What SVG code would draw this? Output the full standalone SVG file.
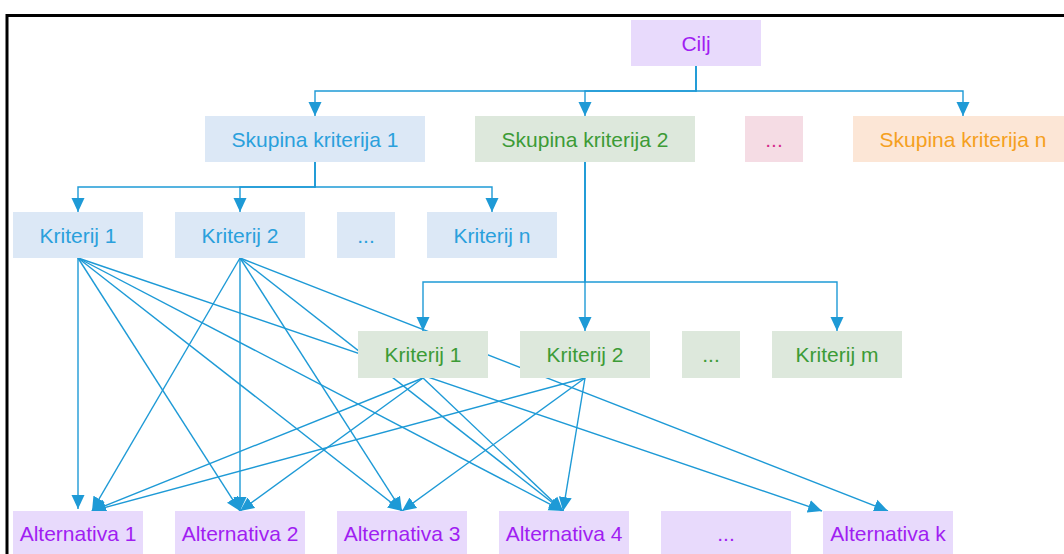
<svg xmlns="http://www.w3.org/2000/svg" width="1064" height="554" viewBox="0 0 1064 554">
<style>
  text { font-family: "Liberation Sans", Arial, sans-serif; font-size: 21px; text-anchor: middle; }
  .con { fill: none; stroke: #1e9ad6; stroke-width: 1.4; }
  .arr { marker-end: url(#ah); }
  .purple rect { fill: #e8dafc; }
  .purple text { fill: #a01ef2; }
  .blue rect { fill: #dce8f6; }
  .blue text { fill: #2aa0dc; }
  .green rect { fill: #dde8dc; }
  .green text { fill: #3c9b36; }
  .pink rect { fill: #f5dce4; }
  .pink text { fill: #d62e8c; }
  .orange rect { fill: #fce6d6; }
  .orange text { fill: #f5a020; }
</style>
<defs>
  <marker id="ah" markerUnits="userSpaceOnUse" viewBox="0 0 14 14" refX="14" refY="7" markerWidth="14" markerHeight="14" orient="auto">
    <path d="M0,0.5 L14,7 L0,13.5 z" fill="#1e9ad6"/>
  </marker>
</defs>
<rect x="0" y="0" width="1064" height="554" fill="#ffffff"/>
<path d="M7,554 V15.5 H1064" fill="none" stroke="#000000" stroke-width="3"/>

<g id="connectors">
  <path class="con arr" d="M696,66 V91 H315 V116"/>
  <path class="con arr" d="M696,66 V91 H585 V116"/>
  <path class="con arr" d="M696,66 V91 H963 V116"/>
  <path class="con arr" d="M315,162 V187 H78 V212"/>
  <path class="con arr" d="M315,162 V187 H240 V212"/>
  <path class="con arr" d="M315,162 V187 H492 V212"/>
  <path class="con arr" d="M585,162 V282 H423 V331"/>
  <path class="con arr" d="M585,162 V331"/>
  <path class="con arr" d="M585,162 V282 H837 V331"/>
  <path class="con arr" d="M78,258 V509"/>
  <path class="con arr" d="M78,258 L240,511"/>
  <path class="con arr" d="M78,258 L402,511"/>
  <path class="con arr" d="M78,258 L563,511"/>
  <path class="con arr" d="M78,258 L822,511"/>
  <path class="con arr" d="M240,258 L92,511"/>
  <path class="con arr" d="M240,258 V511"/>
  <path class="con arr" d="M240,258 L402,511"/>
  <path class="con arr" d="M240,258 L563,511"/>
  <path class="con arr" d="M240,258 L888,511"/>
  <path class="con arr" d="M423,378 L92,511"/>
  <path class="con arr" d="M423,378 L240,511"/>
  <path class="con arr" d="M423,378 L563,511"/>
  <path class="con arr" d="M585,378 L92,511"/>
  <path class="con arr" d="M585,378 L402,511"/>
  <path class="con arr" d="M585,378 L563,511"/>
</g>

<g id="cilj" class="purple"><rect x="631" y="20" width="130" height="46"/><text x="696" y="50.5">Cilj</text></g>

<g id="skupina1" class="blue"><rect x="205" y="116" width="220" height="46"/><text x="315" y="146.5">Skupina kriterija 1</text></g>
<g id="skupina2" class="green"><rect x="475" y="116" width="220" height="46"/><text x="585" y="146.5">Skupina kriterija 2</text></g>
<g id="skupina-dots" class="pink"><rect x="745" y="116" width="58" height="46"/><text x="774" y="146.5">...</text></g>
<g id="skupinan" class="orange"><rect x="853" y="116" width="220" height="46"/><text x="963" y="146.5">Skupina kriterija n</text></g>

<g id="s1-kriterij1" class="blue"><rect x="13" y="212" width="130" height="46"/><text x="78" y="242.5">Kriterij 1</text></g>
<g id="s1-kriterij2" class="blue"><rect x="175" y="212" width="130" height="46"/><text x="240" y="242.5">Kriterij 2</text></g>
<g id="s1-dots" class="blue"><rect x="337" y="212" width="58" height="46"/><text x="366" y="242.5">...</text></g>
<g id="s1-kriterijn" class="blue"><rect x="427" y="212" width="130" height="46"/><text x="492" y="242.5">Kriterij n</text></g>

<g id="s2-kriterij1" class="green"><rect x="358" y="331" width="130" height="47"/><text x="423" y="362">Kriterij 1</text></g>
<g id="s2-kriterij2" class="green"><rect x="520" y="331" width="130" height="47"/><text x="585" y="362">Kriterij 2</text></g>
<g id="s2-dots" class="green"><rect x="682" y="331" width="58" height="47"/><text x="711" y="362">...</text></g>
<g id="s2-kriterijm" class="green"><rect x="772" y="331" width="130" height="47"/><text x="837" y="362">Kriterij m</text></g>

<g id="alt1" class="purple"><rect x="13" y="511" width="130" height="46"/><text x="78" y="541">Alternativa 1</text></g>
<g id="alt2" class="purple"><rect x="175" y="511" width="130" height="46"/><text x="240" y="541">Alternativa 2</text></g>
<g id="alt3" class="purple"><rect x="337" y="511" width="130" height="46"/><text x="402" y="541">Alternativa 3</text></g>
<g id="alt4" class="purple"><rect x="499" y="511" width="130" height="46"/><text x="564" y="541">Alternativa 4</text></g>
<g id="alt-dots" class="purple"><rect x="661" y="511" width="130" height="46"/><text x="726" y="541">...</text></g>
<g id="altk" class="purple"><rect x="823" y="511" width="130" height="46"/><text x="888" y="541">Alternativa k</text></g>
</svg>
